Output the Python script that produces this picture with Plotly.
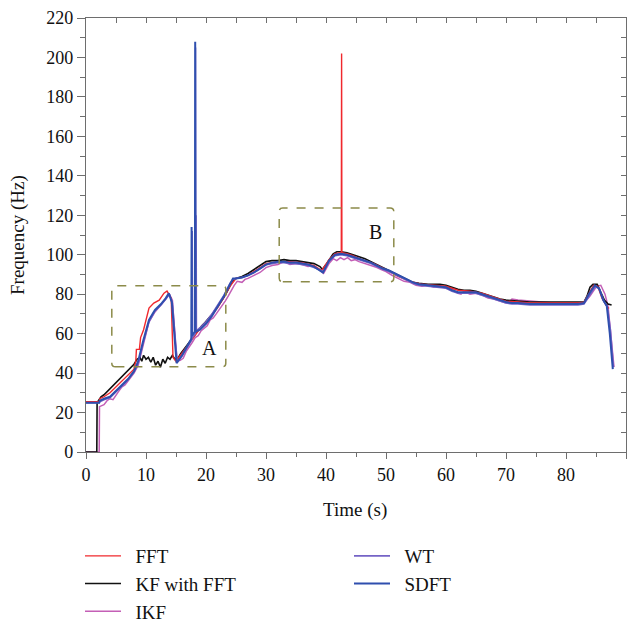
import plotly.graph_objects as go

# ---------------- data ----------------
t_fft = [0, 2.2, 2.3, 3, 4, 5, 6, 7, 8, 8.3, 8.4, 8.9, 9.1, 9.6, 10, 10.5, 11.3, 12.2, 13, 13.5,
         14.2, 14.5, 15, 16, 17, 18, 19, 20, 21, 22, 23, 24, 25, 26, 27, 28, 29, 30, 32, 34,
         36, 38, 39.3, 40.5, 41.5, 42.5, 42.55, 42.6, 42.65, 43.5, 44.5, 46, 48, 50, 52, 54, 56, 58, 60, 62,
         64, 66, 68, 70, 72, 74, 76, 78, 80, 82, 83, 83.8, 84.6, 85.3, 86, 86.6, 87, 87.2]
f_fft = [25.5, 25.5, 27, 28, 30, 33, 36, 39, 42, 46, 52, 52, 58, 62, 67, 73, 75.5, 77, 80.5, 81.6,
         78, 48, 46, 50, 54.5, 58.5, 62.5, 65.5, 69.5, 73.5, 78.5, 84, 88, 88.5, 89.5, 91.5, 93.5, 95.5, 96.5, 96.5,
         96, 94.5, 92, 97.5, 100.5, 101, 101, 202, 101, 100.5, 99.5, 97.5, 95.5, 92.5, 89, 86.5, 85, 84.5, 84, 82,
         81.5, 80.5, 78.5, 76.5, 76, 75.5, 75.5, 75.5, 75.5, 75.5, 76, 80, 84.5, 84, 78, 75, 73, 73]

t_kf = [0, 1.8, 1.85, 2.5, 3, 3.5, 4, 4.5, 5, 5.5, 6, 6.5, 7, 7.5, 8, 8.5, 9, 9.3, 9.6, 10,
        10.4, 10.8, 11.2, 11.6, 12, 12.4, 12.8, 13.2, 13.6, 14, 14.4, 14.8, 15.3, 15.8, 16.3, 16.8, 17.3, 17.8, 18.3, 18.8,
        19.3, 19.8, 20.3, 20.8, 21.3, 21.8, 22.3, 22.8, 23.3, 23.8, 24.3, 25, 26, 27, 28, 29, 30, 31, 32, 33,
        34, 35, 36, 37, 38, 39, 39.4, 40, 40.6, 41.2, 41.8, 42.5, 43.5, 44.5, 45.5, 46.5, 47.5, 48.5, 49.5, 50.5,
        51.5, 52.5, 53.5, 54.5, 55.5, 57, 59, 60, 61, 62, 63, 64, 65, 66, 67, 68, 69, 70, 72, 74,
        76, 78, 80, 82, 83, 83.5, 84, 84.5, 85.2, 85.8, 86.4, 87, 87.6]
f_kf = [0, 0, 25, 28, 29, 30.5, 32, 34, 35.5, 37, 38.5, 40, 41.5, 43, 44.5, 47, 48, 46, 49, 47,
        48, 45.5, 48, 44, 46, 43, 47, 45, 48, 47, 49, 47, 47.5, 50, 52, 54, 56.5, 58.5, 60.5, 62,
        64, 65.5, 67, 69, 71, 73, 75, 77.5, 80, 83, 86, 88, 89, 90.5, 92.5, 94.5, 96.5, 97, 97, 97.5,
        97, 97, 96.5, 96, 95.5, 94, 92.5, 95, 98, 100.5, 101.5, 101.5, 101, 100, 99, 98, 96.5, 95, 93.5, 92,
        90.5, 89, 87.5, 86, 85.5, 85, 85, 84.5, 83.5, 82.5, 82, 82, 81.5, 80.5, 79.5, 78.5, 77.5, 77, 76.5, 76,
        76, 76, 76, 76, 76, 79, 83.5, 85, 85, 81, 77, 75, 74.5]

t_ikf = [0, 2.2, 2.25, 3, 3.5, 4, 4.5, 5, 5.5, 6, 6.5, 7, 7.5, 8, 8.7, 9.5, 10.5, 11.5, 12.5, 13.3,
         13.9, 14.4, 14.9, 15.2, 15.7, 16.2, 16.7, 17.2, 17.7, 18.2, 18.7, 19.2, 19.7, 20.2, 20.7, 21.2, 21.7, 22.2, 22.7, 23.2,
         23.7, 24.2, 24.7, 25.2, 26, 26.5, 27, 28, 29, 30, 31, 32, 33, 34, 35, 36, 37, 38, 39, 39.6,
         40.5, 41.2, 41.8, 42.4, 43, 43.6, 44.2, 44.8, 45.5, 46.5, 47.2, 47.8, 48.5, 49.2, 50, 51, 52, 53, 54, 55,
         56, 57, 58, 59, 60, 61, 62, 62.5, 63, 64, 65, 66, 67, 68, 69, 70, 70.5, 71, 72, 74,
         76, 78, 80, 82, 83, 84, 85.1, 85.8, 86.5, 87, 87.5, 88]
f_ikf = [0, 0, 23, 24, 26, 27, 26.5, 29, 31, 33, 34, 36, 38, 40, 44, 54, 66, 71, 74.5, 77.5,
         80, 77, 56, 46, 46.5, 47.5, 51, 53, 55.5, 58, 59, 61.5, 63, 64, 67, 68, 70, 72, 74, 76.5,
         79, 82, 84.5, 86.5, 86, 87.5, 88, 89.5, 91, 93.5, 94.5, 95, 96.5, 95, 95.5, 95, 94, 94.5, 92, 90.5,
         95.5, 98, 97, 98.5, 97.5, 98.5, 97, 97.5, 96.5, 95.5, 95, 94, 93.5, 92.5, 91.5, 89.5, 88, 86.5, 86, 84.5,
         84, 84.5, 83.5, 84, 83, 82.5, 80.5, 80, 81.5, 80, 80.5, 79.5, 78, 77.5, 76.5, 75.5, 76, 77.5, 77, 76.5,
         76, 75.5, 75.5, 75.5, 75.5, 79, 84, 84.5, 80, 74, 60, 43]

t_wt = [0, 2.2, 2.3, 3, 4, 5, 6, 7, 8, 8.7, 9.5, 10.5, 11.5, 12.5, 13.3, 13.9, 14.4, 14.9, 15.2, 16,
        17, 17.65, 17.7, 17.75, 18.2, 18.25, 18.3, 18.35, 18.4, 18.45, 19, 20, 21, 22, 23, 24, 24.5, 25, 26, 27,
        28, 29, 30, 31, 32, 33, 34, 35, 36, 37, 38, 39, 39.6, 40.5, 41.5, 42.5, 43.5, 44.5, 45.5, 46.5,
        47.5, 48.5, 49.5, 50.5, 51.5, 52.5, 53.5, 54.5, 55.5, 57, 58, 59, 60, 61, 62, 63, 64, 65, 66, 67,
        68, 69, 70, 71, 72, 74, 76, 78, 80, 82, 83, 83.9, 84.9, 85.6, 86.3, 86.9, 87.4, 87.9]
f_wt = [25, 25, 25.5, 26.5, 27.5, 30.5, 33.5, 36.5, 40.5, 45, 55, 66, 71.5, 74.5, 77.5, 80, 75.5, 54, 45.5, 48.5,
        53.5, 57, 112, 58, 60, 205, 60.5, 120, 61, 61.5, 63, 66, 70, 74.5, 79.5, 85.5, 87.5, 88, 88.5, 89.5,
        91, 93, 95, 95.5, 96, 96, 95.5, 95.5, 95, 94.5, 93.5, 92, 91.5, 96.5, 99.5, 100, 99.5, 98.5, 97.5, 96.5,
        95.5, 94, 92.5, 91.5, 90, 88.5, 87, 85.5, 84.5, 84, 84, 83.5, 83, 81.5, 80.5, 80.5, 80.5, 80.5, 79.5, 78.5,
        77.5, 76.5, 75.5, 75, 75, 74.5, 74.5, 74.5, 74.5, 74.5, 75, 79.5, 84, 82.5, 76.5, 73.5, 62, 43]

t_sdft = [0, 2.2, 2.3, 3, 4, 5, 6, 7, 8, 8.7, 9.5, 10.5, 11.5, 12.5, 13.3, 13.8, 14.3, 14.8, 15.1, 16,
          17, 17.5, 17.55, 17.6, 17.65, 18.15, 18.2, 18.25, 19, 20, 21, 22, 23, 24, 24.5, 25, 26, 27, 28, 29,
          30, 31, 32, 33, 34, 35, 36, 37, 38, 39, 39.5, 40.5, 41.5, 42.5, 43.5, 44.5, 45.5, 46.5, 47.5, 48.5,
          49.5, 50.5, 51.5, 52.5, 53.5, 54.5, 55.5, 57, 58, 59, 60, 61, 62, 63, 64, 65, 66, 67, 68, 69,
          70, 71, 72, 74, 76, 78, 80, 82, 83, 83.8, 84.8, 85.5, 86.2, 86.8, 87.3, 87.8]
f_sdft = [25, 25, 26, 27, 28, 31, 34, 37, 41, 46, 56, 67, 72, 75, 78, 80.5, 76, 55, 45, 49,
          54, 57, 58, 114, 59, 61, 208, 61, 62, 65, 69, 74, 79, 85, 88, 88, 88.5, 89.5, 91, 93,
          95, 96, 96.5, 96.5, 96, 96, 95.5, 95, 94, 92, 91, 97, 100, 100.5, 100, 99, 98, 97, 96, 94.5,
          93, 92, 90.5, 89, 87.5, 86, 85, 84.5, 84.5, 84, 83.5, 82, 81, 81, 81, 81, 80, 79, 78, 77,
          76, 75.5, 75.5, 75, 75, 75, 75, 75, 75.5, 80, 84.5, 83, 77, 74, 60, 42]

x_ticks = [0, 10, 20, 30, 40, 50, 60, 70, 80, 90]
y_ticks = [0, 20, 40, 60, 80, 100, 120, 140, 160, 180, 200, 220]

FONT = "Liberation Serif"
AXIS_COLOR = "#6e6e6e"
PAD = "\u00a0\u00a0"  # small gap between legend line and label
W, H = 634, 620

fig = go.Figure()

# drawing order: IKF, KF, FFT, WT, SDFT (last on top)
# (name, x, y, colour, width, legend column, rank within column)
series = [
    ("IKF", t_ikf, f_ikf, "#c45fb6", 1.5, "legend", 3),
    ("KF with FFT", t_kf, f_kf, "#111111", 1.6, "legend", 2),
    ("FFT", t_fft, f_fft, "#f0282d", 1.4, "legend", 1),
    ("WT", t_wt, f_wt, "#7563c6", 1.6, "legend2", 1),
    ("SDFT", t_sdft, f_sdft, "#2f4fae", 2.0, "legend2", 2),
]
for name, tx, fy, color, w, leg, rank in series:
    assert len(tx) == len(fy), name
    fig.add_trace(go.Scatter(x=tx, y=fy, mode="lines", name=PAD + name,
                             line=dict(color=color, width=w),
                             legend=leg, legendrank=rank))

# mirrored frame axes (top and right) with inward ticks
fig.add_trace(go.Scatter(x=[None], y=[None], xaxis="x2", yaxis="y2",
                         showlegend=False, hoverinfo="skip"))


def rounded_box(x0, x1, y0, y1, rx, ry):
    return (f"M {x0 + rx},{y0} L {x1 - rx},{y0} Q {x1},{y0} {x1},{y0 + ry} "
            f"L {x1},{y1 - ry} Q {x1},{y1} {x1 - rx},{y1} "
            f"L {x0 + rx},{y1} Q {x0},{y1} {x0},{y1 - ry} "
            f"L {x0},{y0 + ry} Q {x0},{y0} {x0 + rx},{y0} Z")


box_line = dict(color="#8c8b4a", width=1.5, dash="dash")
fig.add_shape(type="path", xref="x", yref="y",
              path=rounded_box(4.3, 23.3, 43.2, 84.3, 0.6, 1.8), line=box_line)
fig.add_shape(type="path", xref="x", yref="y",
              path=rounded_box(32.2, 51.3, 86.3, 123.7, 0.6, 1.8), line=box_line)

fig.add_annotation(x=20.5, y=52.7, text="A", showarrow=False,
                   font=dict(family=FONT, size=20, color="#111"))
fig.add_annotation(x=48.3, y=111.5, text="B", showarrow=False,
                   font=dict(family=FONT, size=20, color="#111"))

# axis titles
fig.add_annotation(xref="paper", yref="paper", x=(355 - 86) / 540, y=(452 - 510) / 434,
                   text="Time (s)", showarrow=False, xanchor="center", yanchor="middle",
                   font=dict(family=FONT, size=19, color="#111"))
fig.add_annotation(xref="paper", yref="paper", x=(18 - 86) / 540, y=(452 - 235) / 434,
                   text="Frequency (Hz)", showarrow=False, textangle=-90,
                   xanchor="center", yanchor="middle",
                   font=dict(family=FONT, size=19, color="#111"))

# plot area: 86..626 px wide (540), 18..452 px tall (434)
legend_common = dict(orientation="v", xref="paper", yref="paper",
                     xanchor="left", yanchor="top", itemwidth=36,
                     font=dict(family=FONT, size=19, color="#111"),
                     bgcolor="rgba(0,0,0,0)", traceorder="normal",
                     tracegroupgap=0)
leg_y = (452 - 537) / 434

fig.update_layout(
    width=W, height=H,
    margin=dict(l=86, r=8, t=18, b=168, autoexpand=False),
    plot_bgcolor="white", paper_bgcolor="white",
    font=dict(family=FONT, size=18, color="#111"),
    xaxis=dict(range=[0, 90], tickvals=x_ticks, showgrid=False, zeroline=False,
               showline=True, linecolor=AXIS_COLOR, linewidth=1.3,
               ticks="outside", ticklen=6, tickwidth=1.2, tickcolor=AXIS_COLOR,
               minor=dict(dtick=5, ticks="outside", ticklen=4, tickwidth=1.2, tickcolor=AXIS_COLOR),
               tickfont=dict(size=18)),
    yaxis=dict(range=[0, 220], tickvals=y_ticks, showgrid=False, zeroline=False,
               showline=True, linecolor=AXIS_COLOR, linewidth=1.3,
               ticks="outside", ticklen=8, tickwidth=1.2, tickcolor=AXIS_COLOR,
               minor=dict(dtick=10, ticks="outside", ticklen=5, tickwidth=1.2, tickcolor=AXIS_COLOR),
               tickfont=dict(size=18)),
    xaxis2=dict(range=[0, 90], overlaying="x", side="top", anchor="y2",
                showticklabels=False, showgrid=False, zeroline=False,
                showline=True, linecolor=AXIS_COLOR, linewidth=1.3,
                dtick=10, ticks="inside", ticklen=5, tickwidth=1.2, tickcolor=AXIS_COLOR,
                minor=dict(dtick=5, ticks="inside", ticklen=5, tickwidth=1.2, tickcolor=AXIS_COLOR)),
    yaxis2=dict(range=[0, 220], overlaying="y", side="right", anchor="x2",
                showticklabels=False, showgrid=False, zeroline=False,
                showline=True, linecolor=AXIS_COLOR, linewidth=1.3,
                dtick=20, ticks="inside", ticklen=5, tickwidth=1.2, tickcolor=AXIS_COLOR,
                minor=dict(dtick=10, ticks="inside", ticklen=5, tickwidth=1.2, tickcolor=AXIS_COLOR)),
    legend=dict(legend_common, x=(80 - 86) / 540, y=leg_y),
    legend2=dict(legend_common, x=(349 - 86) / 540, y=leg_y),
    showlegend=True,
)

fig.write_html("out.html")
